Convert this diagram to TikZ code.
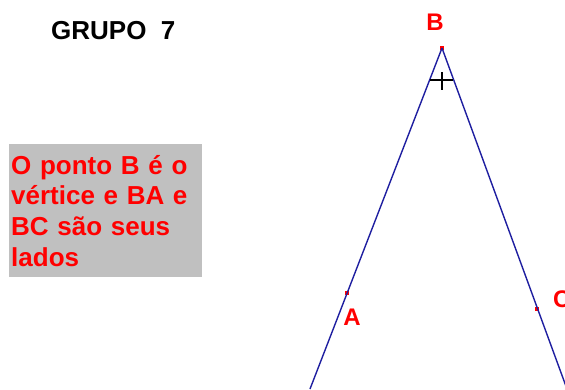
\documentclass[tikz,border=0pt]{standalone}
\usepackage{fontspec}
\setmainfont{Liberation Sans}
\definecolor{linecol}{RGB}{30,30,160}
\definecolor{boxgray}{RGB}{192,192,192}
\definecolor{lblred}{RGB}{255,0,0}
\begin{document}
\begin{tikzpicture}[x=1pt,y=-1pt,
  side/.style={draw=linecol,line width=1.4pt},
  ptmark/.style={fill=lblred,minimum size=4pt,inner sep=0pt},
  ptlabel/.style={text=lblred,font=\fontsize{24}{24}\selectfont\bfseries,inner sep=0pt},
  infobox/.style={fill=boxgray,text=lblred,font=\fontsize{26}{30.7}\selectfont\bfseries,
    minimum width=193pt,minimum height=133pt,text width=189pt,align=left,inner xsep=2pt,inner ysep=0pt},
  title/.style={font=\fontsize{26}{26}\selectfont\bfseries,inner sep=0pt}]
\useasboundingbox (0,0) rectangle (565,389);
\coordinate (Lend) at (310,389);
\coordinate (Rend) at (567,389);
\node[ptmark] (B) at (442,48) {};
\node[ptmark] (A) at (346.5,293) {};
\node[ptmark] (C) at (537,309) {};
\draw[side] (B.center) -- (Lend);
\draw[side] (B.center) -- (Rend);
\node[ptlabel] (Blab) at (435,22) {B};
\node[ptlabel] (Alab) at (352,317) {A};
\node[ptlabel,anchor=west] (Clab) at (553,299) {C};
\coordinate (m1) at (429.6,80);
\coordinate (m2) at (453.4,80);
\coordinate (m3) at (442,72);
\coordinate (m4) at (442,90);
\draw[line width=1.2pt] (m1) -- (m2);
\draw[line width=1.2pt] (m3) -- (m4);
\node[title,anchor=base west] (t) at (51,39) {GRUPO\ \ 7};
\node[infobox,anchor=north west] (box) at (9,144) {O ponto B é o\\vértice e BA e\\BC são seus\\lados};
\end{tikzpicture}
\end{document}
